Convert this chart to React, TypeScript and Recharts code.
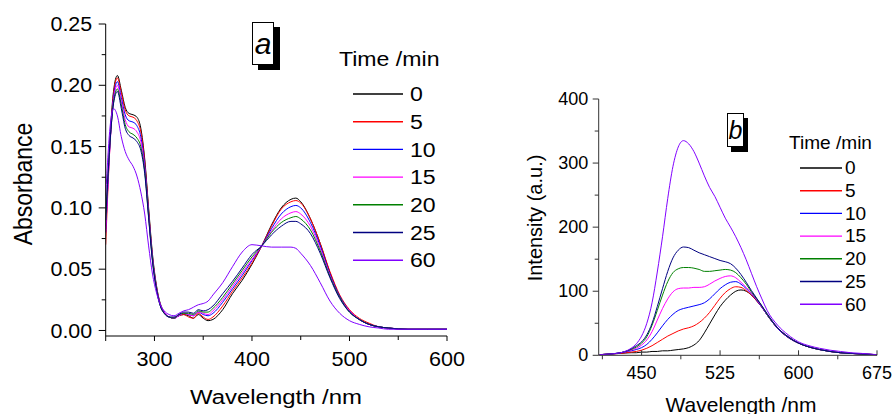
import React from 'react';
import { LineChart, Line, XAxis, YAxis, Legend, Customized } from 'recharts';

// ---- panel a: absorbance vs wavelength ----
const wlA = [250, 255, 258, 262, 266, 270, 274, 278, 282, 286, 290, 294, 298, 302, 306, 310, 315, 320, 325, 330,
  335, 340, 345, 350, 355, 360, 370, 380, 390, 400, 410, 420, 430, 440, 445, 450, 460, 470, 480, 490,
  500, 510, 520, 530, 540, 560, 580, 600];
const absA0 = [0.085, 0.165, 0.195, 0.208, 0.196, 0.182, 0.177, 0.176, 0.174, 0.165, 0.140, 0.100, 0.062, 0.037, 0.022, 0.015, 0.011, 0.010, 0.012, 0.013,
  0.012, 0.010, 0.013, 0.010, 0.008, 0.009, 0.017, 0.030, 0.041, 0.054, 0.069, 0.086, 0.100, 0.107, 0.108, 0.105, 0.091, 0.071, 0.047, 0.028,
  0.016, 0.009, 0.005, 0.003, 0.002, 0.001, 0.001, 0.001];
const absA5 = [0.070, 0.160, 0.193, 0.206, 0.194, 0.180, 0.175, 0.174, 0.171, 0.162, 0.138, 0.098, 0.060, 0.036, 0.021, 0.015, 0.011, 0.010, 0.012, 0.013,
  0.011, 0.010, 0.014, 0.011, 0.009, 0.011, 0.020, 0.032, 0.043, 0.055, 0.069, 0.085, 0.099, 0.105, 0.106, 0.104, 0.091, 0.071, 0.048, 0.029,
  0.017, 0.010, 0.006, 0.003, 0.002, 0.001, 0.001, 0.001];
const absA10 = [0.080, 0.160, 0.190, 0.203, 0.190, 0.176, 0.171, 0.170, 0.167, 0.158, 0.135, 0.096, 0.059, 0.035, 0.021, 0.015, 0.011, 0.010, 0.012, 0.014,
  0.013, 0.012, 0.015, 0.013, 0.012, 0.014, 0.023, 0.034, 0.045, 0.057, 0.069, 0.083, 0.095, 0.101, 0.102, 0.100, 0.088, 0.069, 0.046, 0.028,
  0.016, 0.009, 0.005, 0.003, 0.002, 0.001, 0.001, 0.001];
const absA15 = [0.080, 0.158, 0.188, 0.200, 0.187, 0.172, 0.166, 0.165, 0.162, 0.154, 0.132, 0.094, 0.058, 0.035, 0.021, 0.015, 0.011, 0.010, 0.012, 0.014,
  0.013, 0.012, 0.015, 0.014, 0.013, 0.016, 0.025, 0.036, 0.047, 0.058, 0.069, 0.081, 0.091, 0.096, 0.097, 0.095, 0.085, 0.067, 0.045, 0.027,
  0.016, 0.009, 0.005, 0.003, 0.002, 0.001, 0.001, 0.001];
const absA20 = [0.090, 0.160, 0.186, 0.197, 0.184, 0.168, 0.162, 0.160, 0.157, 0.150, 0.130, 0.093, 0.057, 0.034, 0.020, 0.014, 0.011, 0.010, 0.013, 0.014,
  0.014, 0.013, 0.016, 0.015, 0.015, 0.018, 0.027, 0.038, 0.049, 0.060, 0.069, 0.080, 0.088, 0.092, 0.093, 0.091, 0.082, 0.065, 0.044, 0.027,
  0.015, 0.009, 0.005, 0.003, 0.002, 0.001, 0.001, 0.001];
const absA25 = [0.090, 0.160, 0.185, 0.195, 0.181, 0.165, 0.159, 0.157, 0.154, 0.147, 0.128, 0.092, 0.056, 0.034, 0.020, 0.014, 0.011, 0.011, 0.013, 0.015,
  0.015, 0.014, 0.017, 0.016, 0.017, 0.020, 0.030, 0.040, 0.051, 0.062, 0.069, 0.078, 0.085, 0.089, 0.089, 0.087, 0.079, 0.063, 0.043, 0.026,
  0.015, 0.009, 0.005, 0.003, 0.002, 0.001, 0.001, 0.001];
const absA60 = [0.110, 0.170, 0.181, 0.175, 0.158, 0.146, 0.139, 0.134, 0.126, 0.113, 0.095, 0.069, 0.046, 0.031, 0.021, 0.016, 0.013, 0.012, 0.014, 0.016,
  0.017, 0.019, 0.021, 0.022, 0.024, 0.029, 0.039, 0.052, 0.064, 0.070, 0.069, 0.068, 0.068, 0.068, 0.067, 0.063, 0.053, 0.039, 0.024, 0.014,
  0.008, 0.005, 0.003, 0.002, 0.001, 0.001, 0.001, 0.001];

// ---- panel b: emission intensity vs wavelength ----
const wlB = [410, 420, 430, 440, 445, 450, 455, 460, 465, 470, 475, 480, 485, 490, 495, 500, 505, 510, 515, 520,
  525, 530, 535, 540, 545, 550, 555, 560, 565, 570, 580, 590, 600, 610, 620, 630, 640, 650, 660, 675];
const intB0 = [1, 2, 3, 4, 4, 5, 5, 6, 6, 7, 7, 8, 9, 10, 12, 16, 23, 35, 49, 63,
  76, 86, 94, 100, 102, 100, 94, 85, 75, 63, 42, 28, 19, 13, 9, 6, 4, 3, 2, 1];
const intB5 = [1, 2, 3, 5, 6, 8, 11, 15, 20, 25, 30, 34, 38, 41, 43, 46, 51, 58, 67, 78,
  89, 98, 104, 107, 106, 101, 94, 85, 75, 63, 42, 28, 19, 13, 9, 6, 4, 3, 2, 1];
const intB10 = [1, 2, 4, 7, 9, 12, 17, 25, 35, 46, 56, 64, 70, 73, 75, 77, 79, 82, 88, 96,
  104, 110, 114, 115, 111, 104, 96, 86, 75, 63, 42, 28, 19, 13, 9, 6, 4, 3, 2, 1];
const intB15 = [1, 2, 4, 8, 11, 16, 24, 37, 55, 73, 88, 99, 104, 105, 105, 106, 106, 107, 111, 116,
  120, 123, 124, 121, 114, 106, 97, 87, 76, 64, 43, 29, 19, 13, 9, 6, 4, 3, 2, 1];
const intB20 = [1, 2, 4, 9, 13, 19, 29, 47, 70, 94, 115, 129, 135, 137, 137, 136, 134, 131, 131, 132,
  133, 134, 133, 129, 121, 111, 99, 88, 77, 64, 43, 29, 19, 13, 9, 6, 4, 3, 2, 1];
const intB25 = [1, 2, 4, 10, 15, 21, 32, 50, 76, 104, 131, 152, 164, 169, 168, 164, 160, 157, 154, 151,
  148, 146, 143, 136, 126, 114, 101, 89, 77, 65, 43, 29, 19, 13, 9, 6, 4, 3, 2, 1];
const intB60 = [1, 2, 4, 11, 18, 30, 50, 82, 130, 185, 245, 295, 325, 335, 330, 318, 300, 280, 262, 248,
  231, 214, 200, 185, 168, 149, 128, 107, 88, 70, 47, 32, 21, 15, 11, 8, 6, 4, 3, 1];

const times = [0, 5, 10, 15, 20, 25, 60];
const colors = ['#000000', '#ff0000', '#0000ff', '#ff00ff', '#008000', '#000080', '#8000ff'];
const seriesA = [absA0, absA5, absA10, absA15, absA20, absA25, absA60];
const seriesB = [intB0, intB5, intB10, intB15, intB20, intB25, intB60];

const xTicksA = [250, 300, 350, 400, 450, 500, 550, 600];
const yTicksA = [0, 0.025, 0.05, 0.075, 0.1, 0.125, 0.15, 0.175, 0.2, 0.225, 0.25];
const xTicksB = [412.5, 450, 487.5, 525, 562.5, 600, 637.5, 675];
const yTicksB = [0, 50, 100, 150, 200, 250, 300, 350, 400];

const dataA = wlA.map((wl, i) => {
  const row: any = { wl };
  times.forEach((t, k) => { row['t' + t] = seriesA[k][i]; });
  return row;
});
const dataB = wlB.map((wl, i) => {
  const row: any = { wl };
  times.forEach((t, k) => { row['t' + t] = seriesB[k][i]; });
  return row;
});

const FONT = '"Liberation Sans", Arial, sans-serif';

const Txt = ({ x, y, size, anchor = 'middle', sx = 1, rot = 0, children }: any) => (
  <text
    transform={`translate(${x},${y}) scale(${sx},1)${rot ? ` rotate(${rot})` : ''}`}
    textAnchor={anchor}
    dominantBaseline="central"
    fontSize={size}
    fontFamily={FONT}
    fill="#000"
  >
    {children}
  </text>
);

// panel a ticks
const YTickA = (props: any) => {
  const { x, y, payload } = props;
  const v = payload.value;
  const major = Math.round(v * 1000) % 50 === 0;
  return (
    <g>
      <line x1={x} x2={x - (major ? 7 : 4)} y1={y} y2={y} stroke="#000" />
      {major && <Txt x={x - 13.5} y={y} size={19.5} anchor="end" sx={1.1}>{v.toFixed(2)}</Txt>}
    </g>
  );
};
const XTickA = (props: any) => {
  const { x, y, payload } = props;
  const v = payload.value;
  const major = v % 100 === 0;
  return (
    <g>
      <line x1={x} x2={x} y1={y} y2={y + (major || v === 250 ? 5 : 4)} stroke="#000" />
      {major && <Txt x={x} y={y + 23} size={20} sx={1.08}>{v}</Txt>}
    </g>
  );
};

// panel b ticks
const YTickB = (props: any) => {
  const { x, y, payload } = props;
  const v = payload.value;
  const major = v % 100 === 0;
  return (
    <g>
      <line x1={x} x2={x - (major ? 6 : 4)} y1={y} y2={y} stroke="#333" />
      {major && <Txt x={x - 10.5} y={y} size={18} anchor="end">{v}</Txt>}
    </g>
  );
};
const XTickB = (props: any) => {
  const { x, y, payload } = props;
  const v = payload.value;
  const major = v % 75 === 0;
  return (
    <g>
      <line x1={x} x2={x} y1={y} y2={major ? y - 5 : y + 4} stroke="#333" />
      {major && <Txt x={x} y={y + 18} size={18}>{v}</Txt>}
    </g>
  );
};

const makeLegend = (opts: any) => (props: any) => {
  const payload = [...(props.payload || [])].sort((a: any, b: any) => Number(a.value) - Number(b.value));
  return (
    <svg width={opts.w} height={opts.h} style={{ overflow: 'visible', display: 'block' }}>
      <Txt x={0} y={opts.titleY} size={opts.titleSize} anchor="start" sx={opts.sx}>Time /min</Txt>
      {payload.map((p: any, i: number) => {
        const y = opts.rowY + i * opts.rowGap;
        return (
          <g key={i}>
            <line x1={opts.lx1} x2={opts.lx2} y1={y} y2={y} stroke={p.color} strokeWidth={1.4} />
            <Txt x={opts.tx} y={y} size={opts.size} anchor="start" sx={opts.sx}>{p.value}</Txt>
          </g>
        );
      })}
    </svg>
  );
};

const legendA = makeLegend({ w: 121, h: 230, titleY: 15, titleSize: 21, size: 21, sx: 1.1, rowY: 50, rowGap: 27.7, lx1: 14, lx2: 64, tx: 71 });
const legendB = makeLegend({ w: 90, h: 190, titleY: 13, titleSize: 18, size: 18, sx: 1.06, rowY: 38, rowGap: 22.7, lx1: 11, lx2: 53, tx: 56 });

const Tag = ({ left, top, w, h, dx, dy, label, size }: any) => (
  <>
    <div style={{ position: 'absolute', left: left + dx, top: top + dy, width: w, height: h, background: '#000' }} />
    <div
      style={{
        position: 'absolute', left, top, width: w, height: h, background: '#fff', border: '1px solid #000',
        boxSizing: 'border-box', display: 'flex', alignItems: 'center', justifyContent: 'center',
        fontFamily: FONT, fontStyle: 'italic', fontSize: size, lineHeight: 1, color: '#000',
      }}
    >
      {label}
    </div>
  </>
);

export default function App() {
  return (
    <div style={{ position: 'absolute', left: 0, top: 0, width: 896, height: 414, background: '#fff', overflow: 'hidden' }}>
      <div style={{ position: 'absolute', left: 0, top: 0 }}>
        <LineChart width={480} height={414} data={dataA} margin={{ top: 24, right: 33, left: 0, bottom: 0 }}>
          <XAxis
            dataKey="wl" type="number" domain={[250, 600]} ticks={xTicksA} interval={0}
            height={78} tickSize={0} tickMargin={0} tickLine={false} tick={XTickA}
            axisLine={{ stroke: '#000' }} allowDataOverflow
          />
          <YAxis
            type="number" domain={[-0.0045, 0.25]} ticks={yTicksA} interval={0}
            width={105.7} tickSize={0} tickMargin={0} tickLine={false} tick={YTickA}
            axisLine={{ stroke: '#000' }} allowDataOverflow
          />
          {times.map((t, k) => (
            <Line key={t} type="monotone" dataKey={'t' + t} name={String(t)} stroke={colors[k]}
              strokeWidth={1} dot={false} isAnimationActive={false} />
          ))}
          <Legend layout="vertical" align="center" verticalAlign="middle" content={legendA}
            wrapperStyle={{ left: 339, top: 44, width: 121, height: 230 }} />
          <Customized component={() => (
            <g>
              <Txt x={276} y={397} size={21} sx={1.14}>Wavelength /nm</Txt>
              <Txt x={23} y={184} size={23} sx={1.1} rot={-90}>Absorbance</Txt>
            </g>
          )} />
        </LineChart>
      </div>
      <Tag left={252} top={22} w={22} h={43} dx={6} dy={5} label="a" size={30} />

      <div style={{ position: 'absolute', left: 470, top: 0 }}>
        <LineChart width={426} height={414} data={dataB} margin={{ top: 99, right: 19, left: 0, bottom: 0 }}>
          <XAxis
            dataKey="wl" type="number" domain={[409, 675]} ticks={xTicksB} interval={0}
            height={58.7} tickSize={0} tickMargin={0} tickLine={false} tick={XTickB}
            axisLine={{ stroke: '#333' }} allowDataOverflow
          />
          <YAxis
            type="number" domain={[0, 400]} ticks={yTicksB} interval={0}
            width={128.7} tickSize={0} tickMargin={0} tickLine={false} tick={YTickB}
            axisLine={{ stroke: '#333' }} allowDataOverflow
          />
          {times.map((t, k) => (
            <Line key={t} type="monotone" dataKey={'t' + t} name={String(t)} stroke={colors[k]}
              strokeWidth={1} dot={false} isAnimationActive={false} />
          ))}
          <Legend layout="vertical" align="center" verticalAlign="middle" content={legendB}
            wrapperStyle={{ left: 319, top: 130, width: 90, height: 190 }} />
          <Customized component={() => (
            <g>
              <Txt x={271} y={405} size={20} sx={1.05}>Wavelength /nm</Txt>
              <Txt x={65} y={218} size={20} rot={-90}>Intensity (a.u.)</Txt>
            </g>
          )} />
        </LineChart>
      </div>
      <Tag left={727} top={113} w={17} h={34} dx={4} dy={5} label="b" size={25} />
    </div>
  );
}
